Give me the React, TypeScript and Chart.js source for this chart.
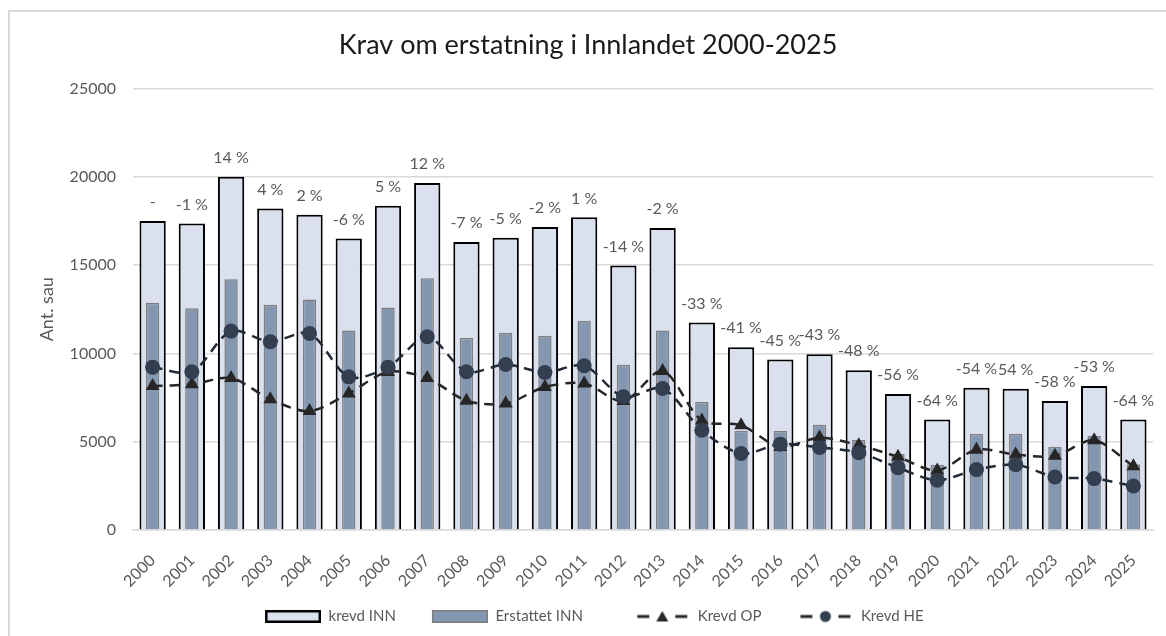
import React, { useEffect, useRef } from "react";
import { Chart, registerables } from "chart.js";

Chart.register(...registerables);

const years = ["2000","2001","2002","2003","2004","2005","2006","2007","2008","2009","2010","2011","2012","2013","2014","2015","2016","2017","2018","2019","2020","2021","2022","2023","2024","2025"];
const krevdINN = [17500, 17350, 20000, 18200, 17850, 16500, 18350, 19650, 16300, 16550, 17150, 17700, 14980, 17100, 11750, 10350, 9650, 9950, 9050, 7700, 6250, 8050, 8000, 7300, 8150, 6250];
const erstattetINN = [12870, 12550, 14200, 12750, 13050, 11300, 12600, 14250, 10870, 11170, 11000, 11850, 9350, 11300, 7250, 5600, 5600, 5960, 5090, 4300, 3700, 5430, 5430, 4700, 5320, 3720];
const krevdOP = [8150, 8250, 8600, 7400, 6730, 7730, 8950, 8600, 7320, 7160, 8100, 8300, 7300, 9000, 6200, 5930, 4700, 5230, 4800, 4140, 3370, 4550, 4270, 4200, 5080, 3610];
const krevdHE = [9220, 8960, 11260, 10660, 11130, 8670, 9220, 10940, 8960, 9370, 8920, 9300, 7540, 8010, 5650, 4330, 4860, 4670, 4380, 3530, 2820, 3420, 3700, 3000, 2910, 2490];
const pctLabels = ["-", "-1 %", "14 %", "4 %", "2 %", "-6 %", "5 %", "12 %", "-7 %", "-5 %", "-2 %", "1 %", "-14 %", "-2 %", "-33 %", "-41 %", "-45 %", "-43 %", "-48 %", "-56 %", "-64 %", "-54 %", "54 %", "-58 %", "-53 %", "-64 %"];
const seriesNames = ["krevd INN", "Erstattet INN", "Krevd OP", "Krevd HE"];
const yTicks = [0, 5000, 10000, 15000, 20000, 25000];

const FONT = "Lato, 'Open Sans', sans-serif";
const GREY_TEXT = "#595959";
const ICON_W = 56;
const ICON_GAP = 28;
const BOX_W = ICON_W + ICON_GAP;
// trailing non-breaking space count per legend entry (spacing only)
const legendTrail = [0, 4, 0, 4];

function makeIconCanvas(h: number) {
  const c = document.createElement("canvas");
  c.width = BOX_W;
  c.height = h;
  return c;
}

function boxIcon(fill: string, stroke: string, lw: number) {
  const c = makeIconCanvas(13);
  const g = c.getContext("2d")!;
  g.translate(ICON_GAP, 0);
  g.fillStyle = fill;
  g.fillRect(0, 0, ICON_W, 13);
  g.strokeStyle = stroke;
  g.lineWidth = lw;
  g.strokeRect(lw / 2, lw / 2, ICON_W - lw, 13 - lw);
  return c;
}

function lineIcon(kind: "tri" | "circ", lineColor: string, markColor: string) {
  const c = makeIconCanvas(14);
  const g = c.getContext("2d")!;
  g.translate(ICON_GAP, 0);
  g.strokeStyle = lineColor;
  g.lineWidth = 3;
  g.beginPath();
  g.moveTo(3, 7);
  g.lineTo(15, 7);
  g.moveTo(41, 7);
  g.lineTo(53, 7);
  g.stroke();
  g.fillStyle = markColor;
  g.beginPath();
  if (kind === "tri") {
    g.moveTo(28, 1.5);
    g.lineTo(22, 12);
    g.lineTo(34, 12);
    g.closePath();
  } else {
    g.arc(28, 7, 5.5, 0, Math.PI * 2);
  }
  g.fill();
  return c;
}

const pctPlugin = {
  id: "pctLabels",
  afterDatasetsDraw(chart: any) {
    const meta = chart.getDatasetMeta(0);
    const ctx = chart.ctx;
    ctx.save();
    ctx.font = `16px ${FONT}`;
    ctx.fillStyle = GREY_TEXT;
    ctx.textAlign = "center";
    ctx.textBaseline = "middle";
    meta.data.forEach((el: any, i: number) => {
      ctx.fillText(pctLabels[i], el.x, el.y - 19);
    });
    ctx.restore();
  },
};

export default function App() {
  const ref = useRef<HTMLCanvasElement | null>(null);

  useEffect(() => {
    if (!ref.current) return;
    const icons = [
      boxIcon("#dae0ee", "#000000", 2.5),
      boxIcon("#8497b0", "#7f7f7f", 1.5),
      lineIcon("tri", "#262626", "#262626"),
      lineIcon("circ", "#262626", "#333f50"),
    ];
    const chart = new Chart(ref.current, {
      type: "bar",
      data: {
        labels: years,
        datasets: [
          {
            type: "bar",
            label: seriesNames[0],
            data: krevdINN,
            backgroundColor: "#dae0ee",
            borderColor: "#000000",
            borderWidth: 2,
            barPercentage: 0.67,
            categoryPercentage: 1,
            grouped: false,
            order: 3,
          },
          {
            type: "bar",
            label: seriesNames[1],
            data: erstattetINN,
            backgroundColor: "#8497b0",
            borderColor: "#7f7f7f",
            borderWidth: 1.5,
            barPercentage: 0.34,
            categoryPercentage: 1,
            grouped: false,
            order: 2,
          },
          {
            type: "line",
            label: seriesNames[2],
            data: krevdOP,
            borderColor: "#262626",
            borderWidth: 2.5,
            borderDash: [10, 7],
            tension: 0.3,
            pointStyle: "triangle",
            pointRadius: 8,
            pointBackgroundColor: "#262626",
            pointBorderColor: "#262626",
            pointBorderWidth: 0,
            fill: false,
            order: 1,
          },
          {
            type: "line",
            label: seriesNames[3],
            data: krevdHE,
            borderColor: "#222a35",
            borderWidth: 2.5,
            borderDash: [10, 7],
            tension: 0.3,
            pointStyle: "circle",
            pointRadius: 7.5,
            pointBackgroundColor: "#333f50",
            pointBorderColor: "#333f50",
            pointBorderWidth: 0,
            fill: false,
            order: 0,
          },
        ],
      } as any,
      options: {
        responsive: false,
        animation: false,
        devicePixelRatio: 1,
        layout: { padding: { left: 0, right: 0, top: 0, bottom: 2 } },
        plugins: {
          title: {
            display: true,
            text: "Krav om erstatning i Innlandet 2000-2025",
            color: "#1a1a1a",
            font: { family: FONT, size: 27, weight: "normal" },
            padding: { top: 17, bottom: 27 },
          },
          legend: {
            display: true,
            position: "bottom",
            labels: {
              usePointStyle: true,
              pointStyleWidth: BOX_W,
              color: GREY_TEXT,
              font: { family: FONT, size: 15 },
              padding: 8,
              generateLabels: () =>
                seriesNames.map((n, i) => ({
                  text: n + "\u00a0".repeat(legendTrail[i]),
                  pointStyle: icons[i],
                  fillStyle: "transparent",
                  strokeStyle: "transparent",
                  lineWidth: 0,
                  hidden: false,
                  datasetIndex: i,
                  fontColor: GREY_TEXT,
                })) as any,
            },
          },
          tooltip: { enabled: false },
        },
        scales: {
          x: {
            grid: { display: false },
            border: { display: true, color: "#d9d9d9", width: 1.5 },
            ticks: {
              color: GREY_TEXT,
              font: { family: FONT, size: 16 },
              maxRotation: 45,
              minRotation: 45,
              padding: 13,
            },
            afterFit: (s: any) => {
              s.height = 71;
            },
          },
          y: {
            min: 0,
            max: 25000,
            afterBuildTicks: (s: any) => {
              s.ticks = yTicks.map((v) => ({ value: v }));
            },
            grid: { color: "#d9d9d9", lineWidth: 1.5, drawTicks: false },
            border: { display: false },
            ticks: {
              color: GREY_TEXT,
              font: { family: FONT, size: 16 },
              padding: 17,
              callback: (v: any) => String(v),
            },
            title: {
              display: true,
              text: "Ant. sau",
              color: GREY_TEXT,
              font: { family: FONT, size: 18 },
              padding: { top: 26, bottom: 0 },
            },
            afterFit: (s: any) => {
              s.width = 123;
            },
          },
          yRight: {
            position: "right",
            display: true,
            min: 0,
            max: 25000,
            grid: { display: false, drawTicks: false },
            border: { display: false },
            ticks: { display: false },
            afterFit: (s: any) => {
              s.width = 13;
            },
          },
        },
      } as any,
      plugins: [pctPlugin],
    });
    return () => chart.destroy();
  }, []);

  return (
    <div
      style={{
        position: "fixed",
        left: 8,
        top: 10,
        width: 1158,
        height: 626,
        boxSizing: "border-box",
        borderLeft: "2px solid #d9d9d9",
        borderTop: "2px solid #d9d9d9",
        background: "#fff",
      }}
    >
      <canvas ref={ref} width={1156} height={624} style={{ display: "block" }} />
    </div>
  );
}
